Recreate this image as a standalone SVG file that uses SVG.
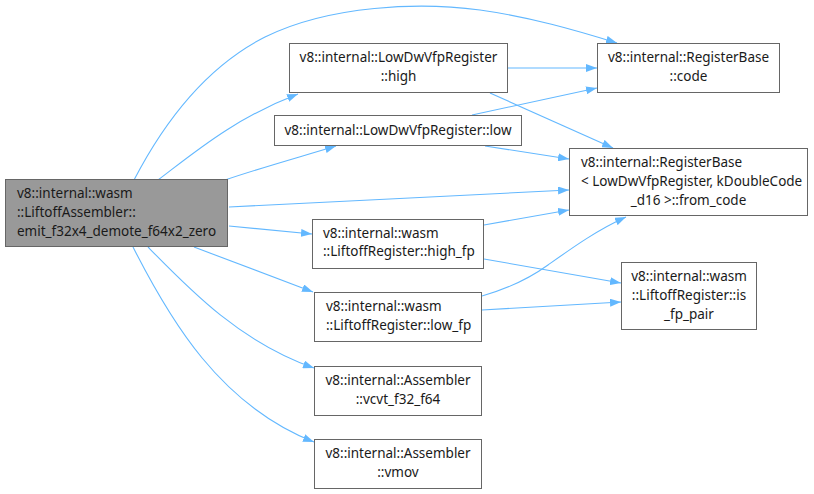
<svg xmlns="http://www.w3.org/2000/svg" width="814" height="494" viewBox="0 0 814 494">
<defs>
<style>
.n rect{fill:#fff;stroke:#666;stroke-width:1}
.n.main rect{fill:#999}
text{font-family:"Noto Sans","DejaVu Sans",sans-serif;font-size:13.5px;fill:#1a1a1a}
.c{text-anchor:middle}
.e path{fill:none;stroke:#63b8ff;stroke-width:1.1}
</style>
<marker id="ah" viewBox="0 0 11 8" refX="11" refY="4" markerWidth="11" markerHeight="8" markerUnits="userSpaceOnUse" orient="auto">
<path d="M0,0 L11,4 L0,8 Z" fill="#63b8ff" stroke="none"/>
</marker>
</defs>
<rect width="814" height="494" fill="#fff"/>
<g id="edges" class="e">
<path marker-end="url(#ah)" d="M134,180 C160,130 200,70 265,37 C330,5 420,2 480,10 C530,17 575,30 617,43"/>
<path marker-end="url(#ah)" d="M158,180 C195,152 235,118 298,94"/>
<path marker-end="url(#ah)" d="M225,180 C260,168 300,157 336,146"/>
<path marker-end="url(#ah)" d="M229,207 L569,190"/>
<path marker-end="url(#ah)" d="M229,226 L312,234"/>
<path marker-end="url(#ah)" d="M194,247 L313,292"/>
<path marker-end="url(#ah)" d="M148,247 C190,290 240,342 314,368"/>
<path marker-end="url(#ah)" d="M133,247 C170,320 220,405 314,442"/>
<path marker-end="url(#ah)" d="M507,68 L597,68"/>
<path marker-end="url(#ah)" d="M490,93 L613,148"/>
<path marker-end="url(#ah)" d="M472,115 L597,88"/>
<path marker-end="url(#ah)" d="M485,146 L569,159"/>
<path marker-end="url(#ah)" d="M484,225 L569,210"/>
<path marker-end="url(#ah)" d="M484,259 L621,283"/>
<path marker-end="url(#ah)" d="M482,296 C510,288 530,278 548,265 C572,248 597,230 626,217"/>
<path marker-end="url(#ah)" d="M482,310 L621,302"/>
</g>
<g id="node-main" class="n main">
<rect x="5.5" y="179.5" width="222" height="67"/>
<text x="17" y="198">v8::internal::wasm</text>
<text x="17" y="217">::LiftoffAssembler::</text>
<text x="17" y="236">emit_f32x4_demote_f64x2_zero</text>
</g>
<g id="node-high" class="n">
<rect x="289.5" y="43.5" width="218" height="49"/>
<text class="c" x="398.5" y="62">v8::internal::LowDwVfpRegister</text>
<text class="c" x="398.5" y="80.5">::high</text>
</g>
<g id="node-low" class="n">
<rect x="274.5" y="115.5" width="247" height="30"/>
<text class="c" x="398" y="135">v8::internal::LowDwVfpRegister::low</text>
</g>
<g id="node-code" class="n">
<rect x="597.5" y="43.5" width="182" height="49"/>
<text class="c" x="688.5" y="62">v8::internal::RegisterBase</text>
<text class="c" x="688.5" y="80.5">::code</text>
</g>
<g id="node-from_code" class="n">
<rect x="569.5" y="148.5" width="238" height="67"/>
<text x="581" y="167">v8::internal::RegisterBase</text>
<text x="581" y="186">&lt; LowDwVfpRegister, kDoubleCode</text>
<text class="c" x="688.5" y="205">_d16 &gt;::from_code</text>
</g>
<g id="node-high_fp" class="n">
<rect x="312.5" y="219.5" width="171" height="49"/>
<text x="323" y="237.5">v8::internal::wasm</text>
<text x="323" y="256">::LiftoffRegister::high_fp</text>
</g>
<g id="node-low_fp" class="n">
<rect x="314.5" y="292.5" width="167" height="49"/>
<text x="326" y="311">v8::internal::wasm</text>
<text x="326" y="329.5">::LiftoffRegister::low_fp</text>
</g>
<g id="node-is_fp_pair" class="n">
<rect x="621.5" y="262.5" width="135" height="67"/>
<text class="c" x="689" y="281">v8::internal::wasm</text>
<text class="c" x="689" y="300">::LiftoffRegister::is</text>
<text class="c" x="689" y="319">_fp_pair</text>
</g>
<g id="node-vcvt" class="n">
<rect x="314.5" y="366.5" width="167" height="49"/>
<text class="c" x="398" y="385">v8::internal::Assembler</text>
<text class="c" x="398" y="403.5">::vcvt_f32_f64</text>
</g>
<g id="node-vmov" class="n">
<rect x="314.5" y="439.5" width="167" height="49"/>
<text class="c" x="398" y="458">v8::internal::Assembler</text>
<text class="c" x="398" y="476.5">::vmov</text>
</g>
</svg>
